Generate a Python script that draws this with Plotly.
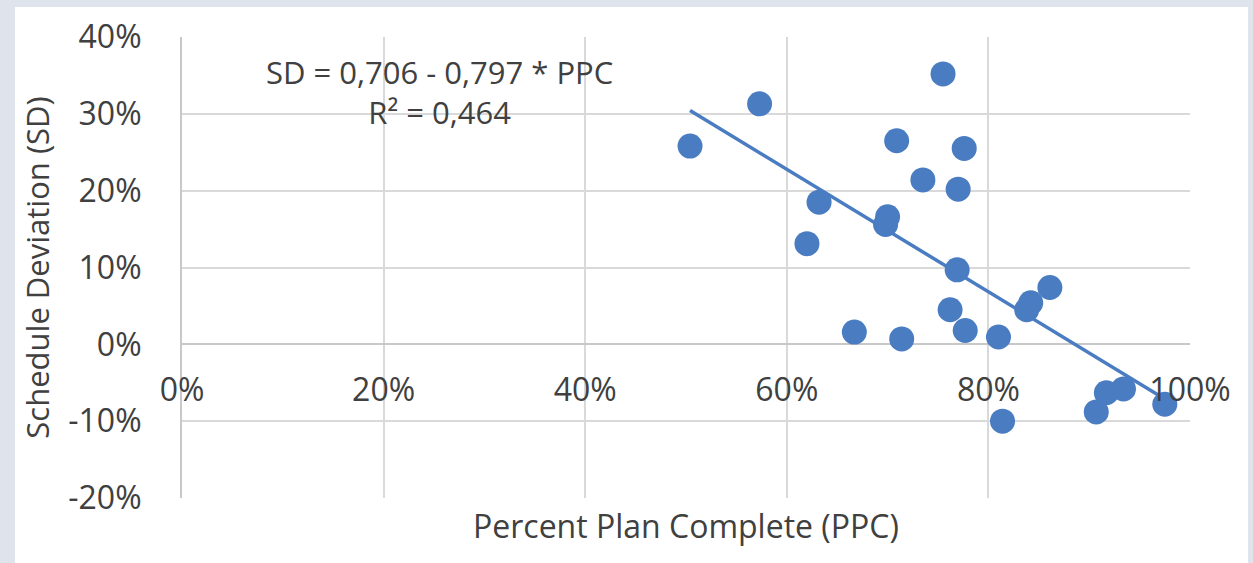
import plotly.graph_objects as go

# Data (fractions)
ppc = [0.504, 0.573, 0.755, 0.709, 0.776, 0.735, 0.770, 0.632, 0.700, 0.698,
       0.620, 0.769, 0.861, 0.842, 0.838, 0.762, 0.777, 0.667, 0.810, 0.714,
       0.934, 0.917, 0.975, 0.907, 0.814]
sd = [0.258, 0.313, 0.352, 0.265, 0.255, 0.214, 0.202, 0.185, 0.166, 0.156,
      0.131, 0.097, 0.074, 0.054, 0.045, 0.045, 0.018, 0.016, 0.0095, 0.007,
      -0.058, -0.063, -0.078, -0.088, -0.100]

intercept = 0.706
slope = -0.797
eq_text = "SD = 0,706 - 0,797 * PPC"
r2_text = "R² = 0,464"

x_ticks = [0, 0.2, 0.4, 0.6, 0.8, 1.0]
x_tick_labels = ["0%", "20%", "40%", "60%", "80%", "100%"]
y_ticks = [-0.2, -0.1, 0, 0.1, 0.2, 0.3, 0.4]
y_tick_labels = ["-20%", "-10%", "0%", "10%", "20%", "30%", "40%"]

x_title = "Percent Plan Complete (PPC)"
y_title = "Schedule Deviation (SD)"

blue = "#4a7cc2"
text_color = "#404040"
grid_color = "#d9d9d9"
font_family = "'Open Sans', Lato, sans-serif"
fs = 32

xmin, xmax = min(ppc), max(ppc)
trend_x = [xmin, xmax]
trend_y = [intercept + slope * v for v in trend_x]

L, R, T, B = 182, 1190, 37, 497.6
W, H = 1253, 563
pw, ph = R - L, B - T

fig = go.Figure()
fig.add_trace(go.Scatter(x=trend_x, y=trend_y, mode="lines",
                         line=dict(color=blue, width=3.5), hoverinfo="skip",
                         showlegend=False))
fig.add_trace(go.Scatter(x=ppc, y=sd, mode="markers",
                         marker=dict(color=blue, size=25, line=dict(width=0)),
                         showlegend=False))

fig.update_layout(
    width=W, height=H,
    margin=dict(l=L, r=W - R, t=T, b=H - B),
    paper_bgcolor="#dfe3ec",
    plot_bgcolor="rgba(0,0,0,0)",
    font=dict(family=font_family, size=fs, color=text_color),
    xaxis=dict(range=[0, 1.0], tickvals=x_ticks, ticktext=x_tick_labels,
               showgrid=True, gridcolor=grid_color, gridwidth=2,
               zeroline=False, showline=False, ticks="",
               anchor="free", position=1/3, side="bottom",
               ticklabelstandoff=24, fixedrange=True),
    yaxis=dict(range=[-0.2, 0.4], tickvals=y_ticks, ticktext=y_tick_labels,
               showgrid=True, gridcolor=grid_color, gridwidth=2,
               zeroline=True, zerolinecolor="#c8c8c8", zerolinewidth=2,
               showline=True, linecolor="#c8c8c8", linewidth=2,
               ticks="", ticklabelstandoff=32,
               title=dict(text=y_title, standoff=9, font=dict(size=31)),
               fixedrange=True),
    shapes=[dict(type="rect", xref="paper", yref="paper",
                 x0=(15 - L) / pw, x1=(1248 - L) / pw,
                 y0=-(H - B) / ph - 0.02, y1=1 + (T - 7) / ph,
                 fillcolor="white", line=dict(width=0), layer="below")],
    annotations=[
        dict(text=eq_text + "<br>" + r2_text, xref="paper", yref="paper",
             x=(439 - L) / pw, y=1 - (92 - T) / ph, showarrow=False,
             xanchor="center", yanchor="middle", align="center",
             font=dict(size=31, color=text_color)),
        dict(text=x_title, xref="paper", yref="paper", x=(686 - L) / pw,
             y=-(525 - B) / ph, showarrow=False, xanchor="center",
             yanchor="middle", font=dict(size=fs, color=text_color)),
    ],
)

fig.write_html("out.html", config={"displayModeBar": False},
               post_script="document.body.style.margin='0';"
                           "document.body.style.background='#dfe3ec';"
                           "document.body.style.overflow='hidden';")
